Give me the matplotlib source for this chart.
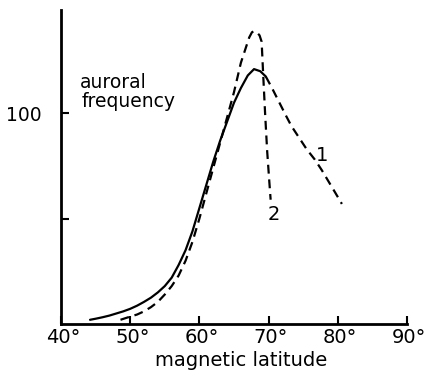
import matplotlib
matplotlib.use("Agg")
from matplotlib import pyplot as plt
from matplotlib.transforms import ScaledTranslation

# curve 1: solid up to just past the peak, dashed beyond
lat_1_solid = [44.2, 45.0, 46.0, 47.0, 48.0, 49.0, 50.0, 51.0, 52.0, 53.0, 54.0, 55.0, 56.0, 57.0,
               58.0, 59.0, 60.0, 61.0, 62.0, 63.0, 64.0, 65.0, 66.0, 67.0, 67.9, 68.8, 69.6]
freq_1_solid = [2, 2.5, 3.2, 4.0, 5.0, 6.0, 7.2, 8.7, 10.5, 12.5, 15, 18, 22, 28,
                35, 44, 55, 66, 77, 87, 96, 105, 112, 118, 121, 120, 117.5]
lat_1_dash = [69.6, 70.5, 71.5, 72.5, 73.3, 74.5, 75.5, 76.7, 77.7, 78.7, 79.7, 80.6]
freq_1_dash = [117.5, 112, 105.5, 99, 94, 88, 83, 78, 73, 67.5, 62, 57]

# curve 2: dashed
lat_2 = [48.6, 50.0, 51.0, 52.0, 53.0, 54.0, 55.0, 56.0, 57.0, 58.0, 59.0, 60.0, 61.0, 62.0,
         63.0, 64.0, 65.0, 66.0, 66.7, 67.2, 67.6, 67.9, 68.3, 68.7, 69.0, 69.2, 69.5, 69.8,
         70.1, 70.3]
freq_2 = [2, 3.5, 4.5, 6, 8, 10.5, 14, 18, 23, 30, 39, 50, 62, 74,
          86, 98, 110, 124, 131, 136, 138.5, 139, 138.5, 137, 134, 120, 100, 82,
          68, 59]

xticks = [40, 50, 60, 70, 80, 90]
xtick_labels = ["40°", "50°", "60°", "70°", "80°", "90°"]
yticks = [50, 100]
ytick_labels = ["", "100"]

fig = plt.figure(figsize=(4.25, 3.75), dpi=100)
ax = fig.add_axes([0.1435, 0.136, 0.814, 0.837])

dash = (0, (4, 2.6))
ax.plot(lat_1_solid, freq_1_solid, color="black", lw=1.6, solid_capstyle="round")
ax.plot(lat_1_dash, freq_1_dash, color="black", lw=1.6, linestyle=dash)
ax.plot(lat_2, freq_2, color="black", lw=1.6, linestyle=dash)

ax.set_xlim(40, 90)
ax.set_ylim(0, 149)

for side in ("top", "right"):
    ax.spines[side].set_visible(False)
for side in ("left", "bottom"):
    ax.spines[side].set_linewidth(2)

ax.set_xticks(xticks)
ax.set_xticklabels(xtick_labels, fontsize=14)
ax.set_yticks(yticks)
ax.set_yticklabels(ytick_labels, fontsize=13.5)
ax.tick_params(axis="x", direction="in", length=6, width=1.5, pad=3)
ax.tick_params(axis="y", direction="in", length=6, width=1.5, pad=14)

# nudge so the digits, not the degree sign, sit on the tick
shift = ScaledTranslation(1.5 / 72, 0, fig.dpi_scale_trans)
for lbl in ax.get_xticklabels():
    lbl.set_transform(lbl.get_transform() + shift)

ax.set_xlabel("magnetic latitude", fontsize=14)
ax.xaxis.set_label_coords(0.52, -0.086)

ax.text(42.8, 114.5, "auroral", fontsize=13.5, ha="left", va="center")
ax.text(43.0, 105.5, "frequency", fontsize=13.5, ha="left", va="center")
ax.text(77.7, 80, "1", fontsize=14, ha="center", va="center")
ax.text(70.8, 52, "2", fontsize=14, ha="center", va="center")

plt.savefig("out.png", dpi=100)
